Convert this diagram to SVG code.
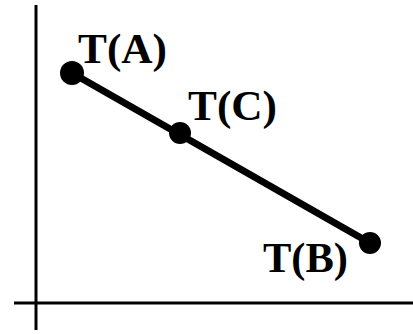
<svg xmlns="http://www.w3.org/2000/svg" width="413" height="334" viewBox="0 0 413 334">
<style>
.ax{stroke:#000;stroke-width:3;fill:none}
.ln{stroke:#000;stroke-width:7;fill:none;stroke-linecap:round}
.pt{fill:#000}
.lb{font-family:"Liberation Serif",serif;font-weight:bold;font-size:43px;fill:#000}
</style>
<rect width="413" height="334" fill="#fff"/>
<g id="axes">
<line class="ax" x1="36" y1="5" x2="36" y2="330"/>
<line class="ax" x1="14" y1="303" x2="413" y2="303"/>
</g>
<g id="connectors">
<line class="ln" x1="72" y1="73" x2="370" y2="243"/>
</g>
<g id="A"><circle class="pt" cx="72" cy="73" r="12"/><text class="lb" x="78" y="63" textLength="89" lengthAdjust="spacingAndGlyphs">T(A)</text></g>
<g id="C"><circle class="pt" cx="180" cy="133" r="11"/><text class="lb" x="188" y="120" textLength="89" lengthAdjust="spacingAndGlyphs">T(C)</text></g>
<g id="B"><circle class="pt" cx="370" cy="243" r="11"/><text class="lb" x="263" y="272" textLength="85" lengthAdjust="spacingAndGlyphs">T(B)</text></g>
</svg>
